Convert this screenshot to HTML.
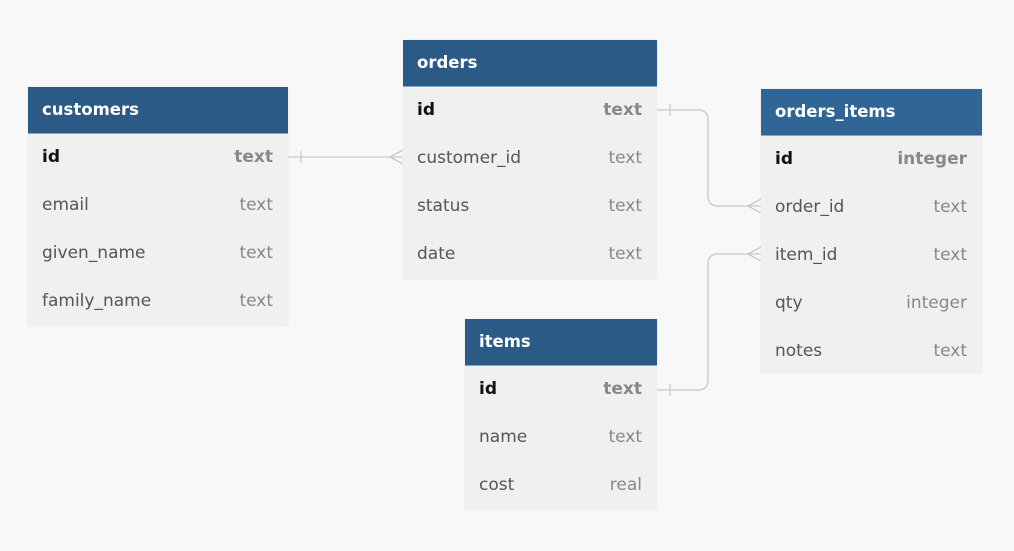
<!DOCTYPE html>
<html><head><style>
body{margin:0;width:1014px;height:551px;background:#f8f8f8;font-family:"DejaVu Sans","Liberation Sans",sans-serif;position:relative;overflow:hidden}
.t{position:absolute;background:#f0f0f0;box-shadow:0 0 1px #ddd}
.h{background:#2c5a87;color:#fff;font-weight:bold;font-size:16.5px;height:47px;line-height:45px;padding-left:14px;border-bottom:1px solid #8aa6c4;box-sizing:border-box}
.r{height:48px;line-height:46px;padding:0 15px 0 14px;font-size:17px;color:#555;display:flex;justify-content:space-between}
.r span:last-child{color:#888}
.r.k span:first-child{color:#111;font-weight:bold}
.r.k span:last-child{color:#888;font-weight:bold}
</style></head><body>
<svg width="1014" height="551" style="position:absolute;left:0;top:0" fill="none" stroke="#c8c8c8" stroke-width="1.3">
<path d="M288 157H403"/><path d="M301 151v12"/><path d="M403 150L390 157L403 164"/>
<path d="M657 110H698Q708 110 708 120V196Q708 206 718 206H761"/><path d="M670 104v12"/><path d="M761 199L748 206L761 213"/>
<path d="M657 390H698Q708 390 708 380V264Q708 254 718 254H761"/><path d="M670 384v12"/><path d="M761 247L748 254L761 261"/>
</svg>
<div class="t" style="left:28px;top:87px;width:260px">
<div class="h">customers</div>
<div class="r k"><span>id</span><span>text</span></div>
<div class="r"><span>email</span><span>text</span></div>
<div class="r"><span>given_name</span><span>text</span></div>
<div class="r"><span>family_name</span><span>text</span></div>
</div>
<div class="t" style="left:403px;top:40px;width:254px">
<div class="h">orders</div>
<div class="r k"><span>id</span><span>text</span></div>
<div class="r"><span>customer_id</span><span>text</span></div>
<div class="r"><span>status</span><span>text</span></div>
<div class="r"><span>date</span><span>text</span></div>
</div>
<div class="t" style="left:761px;top:89px;width:221px">
<div class="h" style="background:#2f6696">orders_items</div>
<div class="r k"><span>id</span><span>integer</span></div>
<div class="r"><span>order_id</span><span>text</span></div>
<div class="r"><span>item_id</span><span>text</span></div>
<div class="r"><span>qty</span><span>integer</span></div>
<div class="r" style="height:45px"><span>notes</span><span>text</span></div>
</div>
<div class="t" style="left:465px;top:319px;width:192px">
<div class="h">items</div>
<div class="r k"><span>id</span><span>text</span></div>
<div class="r"><span>name</span><span>text</span></div>
<div class="r"><span>cost</span><span>real</span></div>
</div>
</body></html>
